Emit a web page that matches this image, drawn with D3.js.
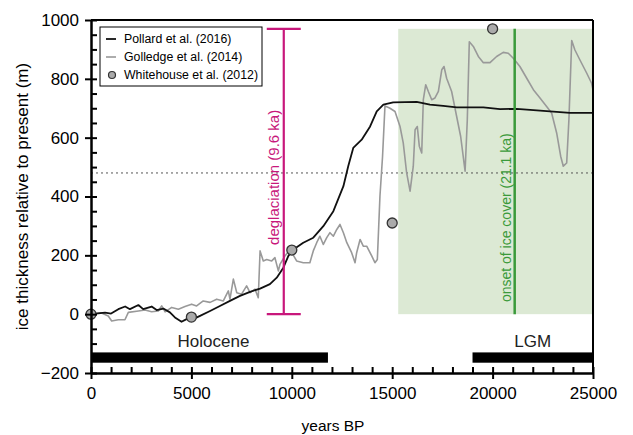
<!DOCTYPE html>
<html>
<head>
<meta charset="utf-8">
<script src="https://cdn.jsdelivr.net/npm/d3@7"></script>
<style>
  body { margin: 0; background: #fff; }
  text { font-family: "Liberation Sans", Arial, sans-serif; }
</style>
</head>
<body>
<div id="chart"></div>
<script>
// Size constants
var totWidth = 633,
    totHeight = 435;
var margins = {top: 20, right: 40, bottom: 62, left: 91};
var width = totWidth - margins.left - margins.right,
    height = totHeight - margins.top - margins.bottom;

// Pollard et al. (2016) model
var pollardYears = [0, 700, 1000, 1360, 1700, 1940, 2360, 2600, 3020, 3270, 3600, 3930, 4180, 4510, 4760, 5090,
  5430, 5930, 6420, 6920, 7420, 7920, 8420, 8910, 9250, 9580, 9830, 10080, 10570, 11070, 11570, 12070,
  12570, 12810, 13060, 13480, 13900, 14230, 14560, 15050, 16220, 16880, 17540, 18210, 19540, 20370,
  21200, 22200, 23850, 25000];
var pollardValues = [0, 5, 2, 17, 26, 17, 31, 17, 26, 14, 19, 6, -11, -26, -17, -17,
  -6, 11, 28, 45, 62, 76, 87, 102, 124, 158, 198, 220, 243, 260, 299, 350,
  435, 503, 565, 593, 638, 689, 712, 720, 722, 712, 708, 703, 703, 697,
  698, 693, 684, 684];

// Golledge et al. (2014) model
var golledgeYears = [0, 500, 860, 1030, 1360, 1690, 1860, 2360, 2690, 3020, 3350, 3520, 3690, 4020, 4350, 4680,
  5010, 5260, 5590, 5930, 6260, 6590, 6840, 6920, 7090, 7260, 7500, 7750, 7920, 8170, 8330, 8420,
  8580, 8750, 9000, 9160, 9330, 9410, 9660, 9910, 10240, 10570, 10900, 11070, 11240, 11400, 11570,
  11740, 11900, 12070, 12240, 12400, 12570, 12740, 12980, 13150, 13230, 13400, 13560, 13730, 13980,
  14140, 14260, 14390, 14520, 14640, 14890, 15140, 15390, 15550, 15720, 15890, 16050, 16140, 16250,
  16350, 16470, 16550, 16670, 16800, 16970, 17130, 17300, 17470, 17580, 17710, 17960, 18210, 18410,
  18630, 18740, 18840, 19040, 19290, 19540, 19870, 20200, 20530, 20780, 21030, 21360, 21700, 22030,
  22360, 22690, 22940, 23190, 23390, 23520, 23690, 23800, 23940, 24100, 24350, 24690, 24930, 25000];
var golledgeValues = [0, 5, -6, -23, -19, -19, 6, 11, 14, 8, 11, 28, 8, 23, 17, 26,
  34, 28, 45, 40, 51, 45, 79, 51, 119, 73, 68, 96, 73, 85, 56, 215,
  181, 186, 181, 192, 147, 169, 198, 220, 181, 175, 175, 215, 243, 265, 237,
  260, 277, 265, 288, 305, 277, 243, 209, 175, 209, 254, 231, 231, 198,
  175, 186, 401, 537, 708, 700, 689, 638, 582, 480, 418, 503, 627, 638,
  571, 548, 729, 780, 757, 729, 735, 757, 831, 842, 802, 757, 672, 604,
  486, 661, 926, 910, 876, 855, 855, 876, 890, 887, 870, 842, 802, 763,
  735, 706, 684, 616, 537, 503, 514, 661, 930, 898, 864, 819, 785, 763];

// Whitehouse et al. (2012)
var whitehouseYears = [0, 5000, 10000, 15000, 20000];
var whitehouseValues = [0, -10, 218, 310, 970];

// Annotations
var deglaciationYear = 9600, deglaciationTop = 970;
var onsetYear = 21100, onsetTop = 970;
var shadeStart = 15300, shadeEnd = 25000;
var refLevel = 480;
var periodNames = ["Holocene", "LGM"];
var periodStarts = [0, 19000];
var periodEnds = [11800, 25000];
var periodBar = [-130, -165];

var xMajor = [0, 5000, 10000, 15000, 20000, 25000];
var yMajor = [-200, 0, 200, 400, 600, 800, 1000];

var svg = d3.select("#chart")
  .append("svg")
    .attr("width", totWidth)
    .attr("height", totHeight)
  .append("g")
    .attr("transform", "translate(" + margins.left + "," + margins.top + ")");

var x = d3.scaleLinear().domain([0, 25000]).range([0, width]);
var y = d3.scaleLinear().domain([-200, 1000]).range([height, 0]);

// green shaded period
svg.append("rect")
  .attr("x", x(shadeStart))
  .attr("y", y(onsetTop))
  .attr("width", x(shadeEnd) - x(shadeStart))
  .attr("height", y(0) - y(onsetTop))
  .attr("fill", "#dce9d4");

// dotted reference line
svg.append("line")
  .attr("x1", 0).attr("x2", width)
  .attr("y1", y(refLevel)).attr("y2", y(refLevel))
  .attr("stroke", "#555")
  .attr("stroke-width", 1)
  .attr("stroke-dasharray", "2,3");

// period bars
periodNames.forEach(function(name, i) {
  svg.append("rect")
    .attr("x", x(periodStarts[i]))
    .attr("y", y(periodBar[0]))
    .attr("width", x(periodEnds[i]) - x(periodStarts[i]))
    .attr("height", y(periodBar[1]) - y(periodBar[0]))
    .attr("fill", "#000");
});
svg.append("text")
  .attr("x", x(6100)).attr("y", y(periodBar[0]) - 5)
  .attr("text-anchor", "middle")
  .attr("font-size", "17px")
  .attr("fill", "#222")
  .text(periodNames[0]);
svg.append("text")
  .attr("x", x(22000)).attr("y", y(periodBar[0]) - 5)
  .attr("text-anchor", "middle")
  .attr("font-size", "17px")
  .attr("fill", "#222")
  .text(periodNames[1]);

// lines
var line = d3.line()
  .x(function(d) { return x(d[0]); })
  .y(function(d) { return y(d[1]); });

svg.append("path")
  .datum(d3.zip(golledgeYears, golledgeValues))
  .attr("fill", "none")
  .attr("stroke", "#999")
  .attr("stroke-width", 1.6)
  .attr("stroke-linejoin", "round")
  .attr("d", line);

svg.append("path")
  .datum(d3.zip(pollardYears, pollardValues))
  .attr("fill", "none")
  .attr("stroke", "#111")
  .attr("stroke-width", 1.8)
  .attr("stroke-linejoin", "round")
  .attr("d", line);

// deglaciation error bar
var magenta = "#c8177b";
svg.append("line")
  .attr("x1", x(deglaciationYear)).attr("x2", x(deglaciationYear))
  .attr("y1", y(0)).attr("y2", y(deglaciationTop))
  .attr("stroke", magenta).attr("stroke-width", 2.2);
[0, deglaciationTop].forEach(function(v) {
  svg.append("line")
    .attr("x1", x(deglaciationYear) - 17).attr("x2", x(deglaciationYear) + 17)
    .attr("y1", y(v)).attr("y2", y(v))
    .attr("stroke", magenta).attr("stroke-width", 2.2);
});
svg.append("text")
  .attr("transform", "translate(" + (x(deglaciationYear) - 5) + "," + (y(465)) + ") rotate(-90)")
  .attr("text-anchor", "middle")
  .attr("font-size", "15px")
  .attr("fill", magenta)
  .text("deglaciation (9.6 ka)");

// onset of ice cover
var green = "#3a9a3a";
svg.append("line")
  .attr("x1", x(onsetYear)).attr("x2", x(onsetYear))
  .attr("y1", y(0)).attr("y2", y(onsetTop))
  .attr("stroke", green).attr("stroke-width", 2.5);
svg.append("text")
  .attr("transform", "translate(" + (x(onsetYear) - 4) + "," + (y(328)) + ") rotate(-90)")
  .attr("text-anchor", "middle")
  .attr("font-size", "14px")
  .attr("fill", green)
  .text("onset of ice cover (21.1 ka)");

// Whitehouse points
svg.selectAll(".wh")
  .data(d3.zip(whitehouseYears, whitehouseValues))
  .enter()
  .append("circle")
    .attr("class", "wh")
    .attr("cx", function(d) { return x(d[0]); })
    .attr("cy", function(d) { return y(d[1]); })
    .attr("r", 5)
    .attr("fill", "#aaa")
    .attr("stroke", "#333")
    .attr("stroke-width", 1.3);

// frame (top and right)
svg.append("line").attr("x1", 0).attr("x2", width).attr("y1", 0).attr("y2", 0)
  .attr("stroke", "#000").attr("stroke-width", 2);
svg.append("line").attr("x1", width).attr("x2", width).attr("y1", 0).attr("y2", height)
  .attr("stroke", "#000").attr("stroke-width", 2);

// Y axis: major ticks outside with labels, all ticks inside
var yMinor = d3.range(-200, 1001, 50);
svg.append("g")
  .call(d3.axisRight(y).tickValues(yMinor).tickSize(6).tickFormat(""))
  .call(function(g) { g.select(".domain").remove(); });
var yAx = svg.append("g")
  .call(d3.axisLeft(y).tickValues(yMajor).tickSize(6).tickSizeOuter(0).tickPadding(6)
    .tickFormat(d3.format("d")));
yAx.selectAll("text").attr("font-size", "17px").attr("fill", "#000")
  .style("font-family", "'Liberation Sans', Arial, sans-serif");

// X axis
var xMinor = d3.range(0, 25001, 1000);
svg.append("g")
  .attr("transform", "translate(0," + height + ")")
  .call(d3.axisTop(x).tickValues(xMinor).tickSize(6).tickFormat(""))
  .call(function(g) { g.select(".domain").remove(); });
var xAx = svg.append("g")
  .attr("transform", "translate(0," + height + ")")
  .call(d3.axisBottom(x).tickValues(xMajor).tickSize(6).tickSizeOuter(0).tickPadding(8)
    .tickFormat(d3.format("d")));
xAx.selectAll("text").attr("font-size", "17px").attr("fill", "#000")
  .style("font-family", "'Liberation Sans', Arial, sans-serif");

svg.selectAll(".domain").attr("stroke-width", 2.5);
svg.selectAll(".tick line").attr("stroke-width", 2);

// axis labels
svg.append("text")
  .attr("x", width / 2 - 9)
  .attr("y", height + 58)
  .attr("text-anchor", "middle")
  .attr("font-size", "15.5px")
  .text("years BP");

svg.append("text")
  .attr("transform", "translate(" + (-63) + "," + (y(400)) + ") rotate(-90)")
  .attr("text-anchor", "middle")
  .attr("font-size", "17px")
  .text("ice thickness relative to present (m)");

// legend
var legend = svg.append("g").attr("transform", "translate(9,7)");
legend.append("rect")
  .attr("width", 162).attr("height", 59)
  .attr("fill", "#fff").attr("stroke", "#000").attr("stroke-width", 1);
var legendNames = ["Pollard et al. (2016)", "Golledge et al. (2014)", "Whitehouse et al. (2012)"];
legendNames.forEach(function(name, i) {
  var ly = 12 + i * 18;
  if (i < 2) {
    legend.append("line")
      .attr("x1", 6).attr("x2", 16).attr("y1", ly).attr("y2", ly)
      .attr("stroke", i === 0 ? "#111" : "#999").attr("stroke-width", i === 0 ? 1.8 : 1.6);
  } else {
    legend.append("circle")
      .attr("cx", 12).attr("cy", ly).attr("r", 3.5)
      .attr("fill", "#aaa").attr("stroke", "#333").attr("stroke-width", 1.2);
  }
  legend.append("text")
    .attr("x", 24).attr("y", ly + 4)
    .attr("font-size", "12.3px")
    .text(name);
});
</script>
</body>
</html>
